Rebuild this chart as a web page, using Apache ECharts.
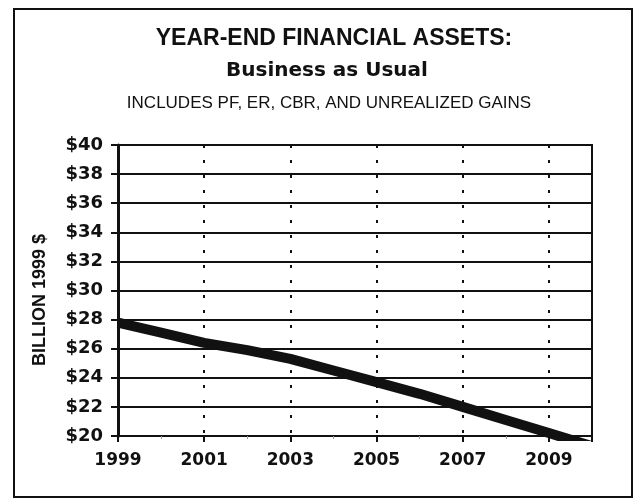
<!DOCTYPE html>
<html>
<head>
<meta charset="utf-8">
<script src="https://cdn.jsdelivr.net/npm/echarts@6/dist/echarts.min.js"></script>
<style>
  html, body { margin: 0; padding: 0; background: #fff; }
  #chart { width: 635px; height: 499px; }
</style>
</head>
<body>
<div id="chart"></div>
<script>
// Year-end financial assets, billions of 1999 dollars
const years = [1999, 2000, 2001, 2002, 2003, 2004, 2005, 2006, 2007, 2008, 2009, 2010];
const assets = [27.8, 27.1, 26.4, 25.9, 25.3, 24.5, 23.7, 22.9, 22.0, 21.1, 20.2, 19.3];
const yearLabels = [1999, 2001, 2003, 2005, 2007, 2009];

const chart = echarts.init(document.getElementById('chart'), null, { renderer: 'canvas' });

const titleFont = 'Liberation Sans, Arial, sans-serif';
const axisFont = 'DejaVu Sans, Verdana, sans-serif';

chart.setOption({
  backgroundColor: '#ffffff',
  animation: false,
  title: [
    {
      text: 'YEAR-END FINANCIAL ASSETS:',
      left: 329, top: 22, textAlign: 'center',
      textStyle: { fontFamily: titleFont, fontWeight: 'bold', fontSize: 23, color: '#111' }
    },
    {
      text: 'Business as Usual',
      left: 322, top: 56, textAlign: 'center',
      textStyle: { fontFamily: axisFont, fontWeight: 'bold', fontSize: 20, color: '#111' }
    },
    {
      text: 'INCLUDES PF, ER, CBR, AND UNREALIZED GAINS',
      left: 324, top: 90, textAlign: 'center',
      textStyle: { fontFamily: titleFont, fontWeight: 'normal', fontSize: 17, color: '#111' }
    }
  ],
  graphic: [
    {
      type: 'rect',
      shape: { x: 14, y: 9, width: 618, height: 488 },
      style: { fill: 'none', stroke: '#111', lineWidth: 2 },
      silent: true
    },
    {
      type: 'text',
      x: 40, y: 300,
      rotation: Math.PI / 2,
      style: {
        text: 'BILLION 1999 $',
        fill: '#111',
        font: 'bold 18px Liberation Sans, Arial, sans-serif',
        align: 'center',
        verticalAlign: 'middle'
      },
      silent: true
    }
  ],
  grid: {
    left: 118, right: 43, top: 145, bottom: 63,
    show: true, borderColor: '#111', borderWidth: 2, backgroundColor: 'transparent'
  },
  xAxis: {
    type: 'value',
    min: 1999, max: 2010, interval: 2,
    axisLine: { show: true, lineStyle: { color: '#111', width: 2 } },
    axisTick: { show: true, length: 6, lineStyle: { color: '#111', width: 2 } },
    minorTick: { show: true, splitNumber: 2, length: 3, lineStyle: { color: '#999', width: 1 } },
    axisLabel: {
      margin: 16,
      fontFamily: axisFont, fontWeight: 'bold', fontSize: 17, color: '#111',
      formatter: function (v) { return yearLabels.indexOf(v) >= 0 ? String(v) : ''; }
    },
    splitLine: {
      show: true,
      lineStyle: { color: '#111', width: 2, type: [3, 12] }
    }
  },
  yAxis: {
    type: 'value',
    min: 20, max: 40, interval: 2,
    axisLine: { show: true, lineStyle: { color: '#111', width: 3 } },
    axisTick: { show: true, length: 7, lineStyle: { color: '#111', width: 2 } },
    axisLabel: {
      margin: 15,
      fontFamily: axisFont, fontWeight: 'bold', fontSize: 18, color: '#111',
      formatter: function (v) { return '$' + v; }
    },
    splitLine: { show: true, lineStyle: { color: '#111', width: 2 } }
  },
  series: [
    {
      type: 'line',
      data: years.map(function (y, i) { return [y, assets[i]]; }),
      showSymbol: false,
      clip: true,
      lineStyle: { color: '#111', width: 10 },
      z: 5
    }
  ]
});
</script>
</body>
</html>
